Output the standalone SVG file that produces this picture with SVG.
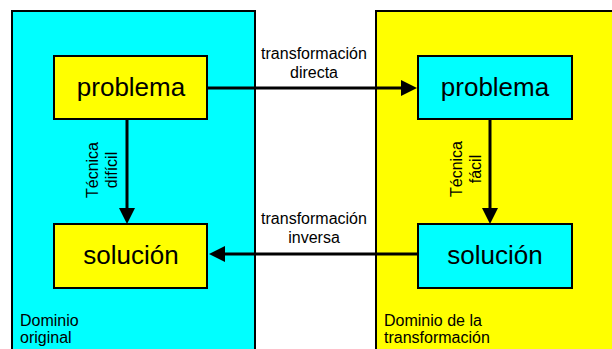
<svg xmlns="http://www.w3.org/2000/svg" width="612" height="349" viewBox="0 0 612 349">
<style>
text{font-family:"Liberation Sans",Arial,sans-serif;fill:#000}
.panel{stroke:#000;stroke-width:2}
.box{stroke:#000;stroke-width:2}
.big{font-size:26px;text-anchor:middle}
.lbl{font-size:16px;text-anchor:middle}
.dom{font-size:16px}
.conn{stroke:#000;stroke-width:3;fill:none}
</style>
<defs>
<marker id="ah" markerUnits="userSpaceOnUse" markerWidth="16" markerHeight="16" refX="8" refY="8" orient="auto">
<path d="M0,0 L16,8 L0,16 z" fill="#000"/>
</marker>
</defs>
<rect width="612" height="349" fill="#fff"/>
<g id="dominio-original">
<rect class="panel" x="12" y="11" width="243" height="345" fill="#00FFFF"/>
<text class="dom" x="20" y="326">Dominio</text>
<text class="dom" x="20" y="343">original</text>
</g>
<g id="dominio-transformacion">
<rect class="panel" x="376" y="11" width="245" height="345" fill="#FFFF00"/>
<text class="dom" x="384" y="326">Dominio de la</text>
<text class="dom" x="384" y="343">transformación</text>
</g>
<g id="connectors">
<line class="conn" x1="207" y1="88" x2="409" y2="88" marker-end="url(#ah)"/>
<line class="conn" x1="418" y1="254" x2="217" y2="254" marker-end="url(#ah)"/>
<line class="conn" x1="127" y1="119" x2="127" y2="216" marker-end="url(#ah)"/>
<line class="conn" x1="490" y1="119" x2="490" y2="216" marker-end="url(#ah)"/>
<text class="lbl" x="314" y="59">transformación</text>
<text class="lbl" x="314" y="78">directa</text>
<text class="lbl" x="314" y="224">transformación</text>
<text class="lbl" x="314" y="243">inversa</text>
<text class="lbl" transform="translate(98,170) rotate(-90)">Técnica</text>
<text class="lbl" transform="translate(117,170) rotate(-90)">difícil</text>
<text class="lbl" transform="translate(462,169) rotate(-90)">Técnica</text>
<text class="lbl" transform="translate(481,169) rotate(-90)">fácil</text>
</g>
<g id="problema-original">
<rect class="box" x="54" y="56" width="153" height="63" fill="#FFFF00"/>
<text class="big" x="131" y="96">problema</text>
</g>
<g id="solucion-original">
<rect class="box" x="54" y="224" width="153" height="64" fill="#FFFF00"/>
<text class="big" x="131" y="264">solución</text>
</g>
<g id="problema-transformado">
<rect class="box" x="418" y="56" width="154" height="63" fill="#00FFFF"/>
<text class="big" x="495" y="96">problema</text>
</g>
<g id="solucion-transformada">
<rect class="box" x="418" y="224" width="154" height="64" fill="#00FFFF"/>
<text class="big" x="495" y="264">solución</text>
</g>
</svg>
